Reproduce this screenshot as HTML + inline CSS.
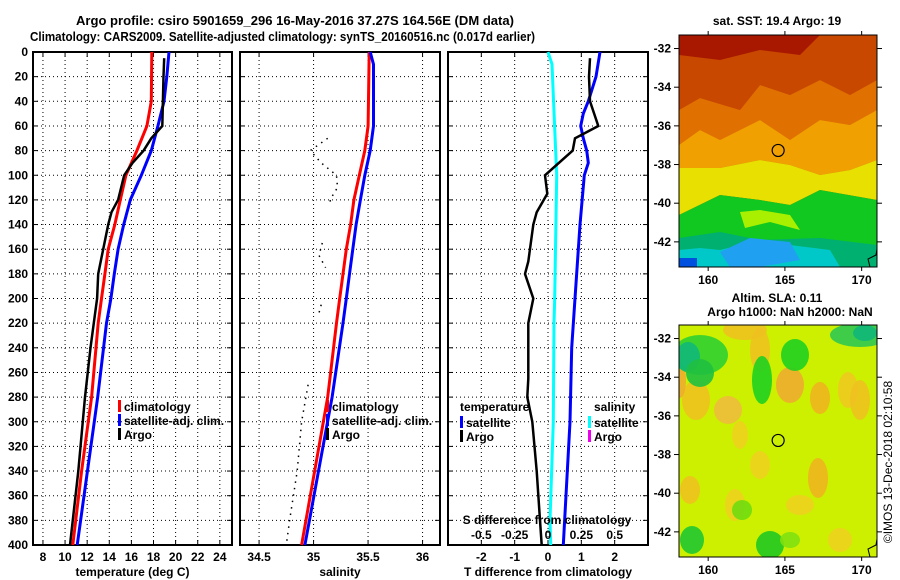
<!DOCTYPE html>
<html><head><meta charset="utf-8"><style>
body{margin:0;background:#fff;}
svg{display:block;font-family:"Liberation Sans",Arial,sans-serif;font-weight:bold;}
</style></head><body>
<svg id="c" width="900" height="580" xmlns="http://www.w3.org/2000/svg">
<text x="76" y="25" font-size="12.5" textLength="438" lengthAdjust="spacingAndGlyphs">Argo profile: csiro 5901659_296 16-May-2016 37.27S 164.56E (DM data)</text>
<text x="30" y="41" font-size="12.5" textLength="505" lengthAdjust="spacingAndGlyphs">Climatology: CARS2009. Satellite-adjusted climatology: synTS_20160516.nc (0.017d earlier)</text>
<g id="maps"></g>
<g id="panels"></g>
</svg>
<script>
// ---- data ----
const depthTicks=[0,20,40,60,80,100,120,140,160,180,200,220,240,260,280,300,320,340,360,380,400];
const tTicks=[8,10,12,14,16,18,20,22,24];
const sTicks=[34.5,35,35.5,36];
const dTicks=[-2,-1,0,1,2];
const sdTicks=[-0.5,-0.25,0,0.25,0.5];
const sdTickLabels=["-0.5","-0.25","0","0.25","0.5"];

const climTDepth=[0,40,60,80,100,120,140,160,180,200,220,280,340,400];
const climT=[17.85,17.8,17.4,16.5,15.5,15.0,14.5,13.9,13.6,13.3,13.0,12.4,11.5,10.7];
const satTDepth=[0,20,40,60,80,100,120,140,160,180,200,220,280,400];
const satT=[19.4,19.2,18.95,18.4,17.8,16.9,15.9,15.3,14.8,14.45,14.15,13.75,12.95,11.1];
const argoTDepth=[5,20,60,70,80,90,100,120,130,140,160,180,200,220,240,280,340,400];
const argoT=[18.97,18.9,18.8,17.8,17.1,16.1,15.35,14.8,14.2,13.9,13.45,13.0,12.9,12.6,12.3,11.8,11.2,10.45];

const climSDepth=[0,60,80,100,120,140,160,180,200,220,280,400];
const climS=[35.51,35.5,35.47,35.42,35.37,35.34,35.30,35.27,35.24,35.21,35.13,34.89];
const satSDepth=[0,10,60,80,100,120,140,160,180,200,220,280,400];
const satS=[35.52,35.55,35.55,35.52,35.47,35.43,35.39,35.36,35.33,35.30,35.27,35.17,34.92];
const argoSDepth=[70,80,90,100,110,120,125,null,155,165,175,null,205,215,null,270,300,340,380,400];
const argoS=[35.13,34.97,35.07,35.21,35.22,35.15,35.17,null,35.08,35.05,35.11,null,35.07,35.04,null,34.95,34.89,34.85,34.78,34.75];

const satDTDepth=[0,20,40,50,60,70,80,90,100,140,200,240,300,400];
const satDT=[1.56,1.44,1.21,1.06,0.98,1.06,1.16,1.21,1.09,0.96,0.81,0.71,0.66,0.46];
const argoDTDepth=[5,20,40,60,65,70,80,100,115,130,140,170,180,200,220,265,280,300,340,380,400];
const argoDT=[1.26,1.23,1.26,1.51,1.16,0.81,0.74,-0.09,-0.02,-0.34,-0.44,-0.59,-0.69,-0.44,-0.59,-0.59,-0.62,-0.47,-0.34,-0.24,-0.19];
const satDSDepth=[0,10,100,200,220,300,380,400];
const satDS=[0,0.03,0.065,0.05,0.045,0.04,0.015,0.02];

const NS="http://www.w3.org/2000/svg";
function mk(tag,attrs,parent,txt){const e=document.createElementNS(NS,tag);for(const k in attrs)e.setAttribute(k,attrs[k]);if(txt!==undefined)e.textContent=txt;parent.appendChild(e);return e;}
const P=document.getElementById('panels');
const Y0=52,Y1=545;
const yD=d=>Y0+d*(Y1-Y0)/400;
function panel(x0,x1,vmin,vmax,ticks,labels,name,title,showY){
  const g=mk('g',{},P);
  
  
  const sx=v=>x0+(v-vmin)/(vmax-vmin)*(x1-x0);
  ticks.forEach((t,i)=>{const x=sx(t);
    const l=mk('line',{x1:x,x2:x,y1:Y0,y2:Y1,stroke:'#000','stroke-width':1,'stroke-dasharray':'1 3'},g);
    
    mk('line',{x1:x,x2:x,y1:Y1,y2:Y1-5,stroke:'#000'},g);mk('line',{x1:x,x2:x,y1:Y0,y2:Y0+5,stroke:'#000'},g);
    const tl=mk('text',{x:x,y:561,'font-size':12,'text-anchor':'middle'},g,labels[i]);
    });
  depthTicks.forEach(d=>{const y=yD(d);
    if(d>0&&d<400){const l=mk('line',{x1:x0,x2:x1,y1:y,y2:y,stroke:'#000','stroke-dasharray':'1 3'},g);
      }
    mk('line',{x1:x0,x2:x0+5,y1:y,y2:y,stroke:'#000'},g);mk('line',{x1:x1,x2:x1-5,y1:y,y2:y,stroke:'#000'},g);
    if(showY){const tl=mk('text',{x:28,y:y+4,'font-size':12,'text-anchor':'end'},g,String(d));
      }});
  const fr=mk('rect',{x:x0,y:Y0,width:x1-x0,height:Y1-Y0,fill:'none',stroke:'#000','stroke-width':2},g);
  
  const at=mk('text',{x:(x0+x1)/2,y:576,'font-size':12,'text-anchor':'middle'},g,title);
  
  return {g,sx};
}
function line(g,sx,depths,vals,color,w,name,dash){
  let d='',pen=false;
  for(let i=0;i<vals.length;i++){
    if(vals[i]===null){pen=false;continue;}
    d+=(pen?'L':'M')+sx(vals[i]).toFixed(1)+' '+yD(depths[i]).toFixed(1);pen=true;}
  const a={d:d,fill:'none',stroke:color,'stroke-width':w};
  if(dash)a['stroke-dasharray']=dash;
  const p=mk('path',a,g);
  
  
}
function legend(g,x,y,color,label,name){
  mk('rect',{x:x,y:y-9,width:3,height:12,fill:color},g);
  const t=mk('text',{x:x+6,y:y+2,'font-size':12},g,label);
  
}
// temperature
const p1=panel(33,232,7.1,25.1,tTicks,tTicks.map(String),'temperature-panel','temperature (deg C)',true);
line(p1.g,p1.sx,climTDepth,climT,'#f00',3,'climatology-temperature-line');
line(p1.g,p1.sx,satTDepth,satT,'#00f',3,'satellite-adj-temperature-line');
line(p1.g,p1.sx,argoTDepth,argoT,'#000',2.5,'argo-temperature-line');
legend(p1.g,118,409,'#f00','climatology','legend-climatology');
legend(p1.g,118,423,'#00f','satellite-adj. clim.','legend-satellite-adj');
legend(p1.g,118,437,'#000','Argo','legend-argo');
// salinity
const p2=panel(240,440,34.325,36.16,sTicks,sTicks.map(String),'salinity-panel','salinity',false);
line(p2.g,p2.sx,climSDepth,climS,'#f00',3,'climatology-salinity-line');
line(p2.g,p2.sx,satSDepth,satS,'#00f',3,'satellite-adj-salinity-line');
line(p2.g,p2.sx,argoSDepth,argoS,'#000',1.5,'argo-salinity-line','1.5 5');
legend(p2.g,326,409,'#f00','climatology','legend-climatology');
legend(p2.g,326,423,'#00f','satellite-adj. clim.','legend-satellite-adj');
legend(p2.g,326,437,'#000','Argo','legend-argo');
// difference
const p3=panel(448,648,-3,3,dTicks,dTicks.map(String),'difference-panel','T difference from climatology',false);
const sxS=v=>448+(v+0.75)/1.5*200;
line(p3.g,sxS,satDSDepth,satDS,'#0ff',3,'satellite-salinity-diff-line');
line(p3.g,p3.sx,satDTDepth,satDT,'#00f',3,'satellite-temperature-diff-line');
line(p3.g,p3.sx,argoDTDepth,argoDT,'#000',2.5,'argo-temperature-diff-line');
let t=mk('text',{x:460,y:411,'font-size':12},p3.g,'temperature');
legend(p3.g,460,425,'#00f','satellite','legend-t-satellite');
legend(p3.g,460,439,'#000','Argo','legend-t-argo');
t=mk('text',{x:594,y:411,'font-size':12},p3.g,'salinity');
legend(p3.g,588,425,'#0ff','satellite','legend-s-satellite');
legend(p3.g,588,439,'#e0e','Argo','legend-s-argo');
t=mk('text',{x:547,y:524,'font-size':12,'text-anchor':'middle'},p3.g,'S difference from climatology');
sdTicks.forEach((v,i)=>{const tt=mk('text',{x:sxS(v),y:539,'font-size':12,'text-anchor':'middle'},p3.g,sdTickLabels[i]);
  });

// ---- maps ----
const M=document.getElementById('maps');
const latTicks=[-32,-34,-36,-38,-40,-42];
const lonTicks=[160,165,170];
function mapFrame(y0,y1,name,shapes,bg){
  const g=mk('g',{},M);
  
  
  const cp='clip'+y0;
  const cl=mk('clipPath',{id:cp},g);mk('rect',{x:679,y:y0,width:198,height:y1-y0},cl);
  const ig=mk('g',{'clip-path':'url(#'+cp+')'},g);
  mk('rect',{x:679,y:y0,width:198,height:y1-y0,fill:bg},ig);
  shapes(ig,y0);
  const lx=v=>679+(v-158.1)/(171-158.1)*198;
  const ly=v=>y0+(-31.3-v)/12*(y1-y0);
  mk('circle',{cx:lx(164.56),cy:ly(-37.27),r:6,fill:'none',stroke:'#000','stroke-width':1.2},ig);
  mk('path',{d:`M870 ${y1} L868 ${y1-8} L876 ${y1-12} L877 ${y1-18}`,fill:'none',stroke:'#000'},ig);
  mk('rect',{x:679,y:y0,width:198,height:y1-y0,fill:'none',stroke:'#000'},g);
  latTicks.forEach(v=>{const y=ly(v);mk('line',{x1:674,x2:679,y1:y,y2:y,stroke:'#000'},g);mk('line',{x1:877,x2:882,y1:y,y2:y,stroke:'#000'},g);
    const tl=mk('text',{x:671,y:y+4,'font-size':12,'text-anchor':'end'},g,String(v));});
  lonTicks.forEach(v=>{const x=lx(v);mk('line',{x1:x,x2:x,y1:y0-4,y2:y0,stroke:'#000'},g);mk('line',{x1:x,x2:x,y1:y1,y2:y1+4,stroke:'#000'},g);
    const tl=mk('text',{x:x,y:y1+17,'font-size':12,'text-anchor':'middle'},g,String(v));});
}
mapFrame(35,267,'sst-map',(g,y0)=>{
  mk('rect',{x:679,y:35,width:198,height:20,fill:'#a01000'},g);
  mk('path',{d:'M679 35 H820 V60 L780 70 L720 78 L679 110 Z',fill:'#a81800'},g);
  mk('path',{d:'M679 110 L700 98 L740 110 L760 85 L790 95 L820 80 L850 95 L877 80 V110 L850 125 L820 120 L790 140 L760 120 L720 140 L700 130 L679 145 Z',fill:'#e07000'},g);
  mk('path',{d:'M679 55 L720 60 L760 50 L800 55 L820 35 H877 V80 L850 95 L820 80 L790 95 L760 85 L740 110 L700 98 L679 110 Z',fill:'#c84800'},g);
  mk('path',{d:'M679 145 L700 130 L720 140 L760 120 L790 140 L820 120 L850 125 L877 110 V160 L850 170 L820 175 L790 165 L760 160 L720 168 L679 168 Z',fill:'#f0a000'},g);
  mk('path',{d:'M679 168 L720 168 L760 160 L790 165 L820 175 L850 170 L877 160 V200 L820 190 L790 205 L760 200 L720 195 L679 215 Z',fill:'#e8e000'},g);
  mk('path',{d:'M679 215 L720 195 L760 200 L790 205 L820 190 L877 200 V267 H679 Z',fill:'#10c820'},g);
  mk('path',{d:'M740 212 L760 210 L790 215 L800 230 L770 222 L745 228 Z',fill:'#a8f000'},g);
  mk('path',{d:'M679 238 L720 232 L760 240 L820 238 L877 245 V267 H679 Z',fill:'#00b070'},g);
  mk('path',{d:'M679 250 L700 248 L720 250 L760 240 L790 245 L830 250 L840 267 H679 Z',fill:'#00c8c8'},g);
  mk('path',{d:'M720 252 L750 238 L790 242 L800 260 L760 267 L730 267 Z',fill:'#20a0f0'},g);
  mk('rect',{x:679,y:258,width:18,height:9,fill:'#0050e0'},g);
},'#c84800');
mapFrame(325,557,'sla-map',(g)=>{
  const bl=[[745,330,22,10,'#f0c020'],[760,350,10,22,'#f0c020'],[790,385,14,18,'#f0a830'],[696,400,14,20,'#f0c020'],[728,410,14,14,'#f0b840'],[740,435,8,14,'#f0d020'],[820,398,10,16,'#f0b020'],[848,390,10,18,'#f0c820'],[860,400,10,20,'#f0c020'],[818,478,10,20,'#f0b020'],[690,490,10,14,'#f0c020'],[735,505,10,16,'#f0d020'],[800,505,14,10,'#f0d020'],[840,540,12,12,'#f0d020'],[760,465,10,14,'#f0d020'],[680,380,6,18,'#f0a830']];
  bl.forEach(b=>mk('ellipse',{cx:b[0],cy:b[1],rx:b[2],ry:b[3],fill:b[4],opacity:0.85},g));
  const gr=[[700,355,28,20,'#30d030'],[688,357,12,15,'#10b878'],[700,373,14,14,'#20c040'],[762,380,10,24,'#20d020'],[795,355,14,16,'#20d020'],[860,335,30,12,'#30c850'],[865,333,12,8,'#10b878'],[692,540,12,14,'#20c830'],[770,545,14,14,'#20c820'],[742,510,10,10,'#70dc10'],[790,540,10,8,'#80e010']];
  gr.forEach(b=>mk('ellipse',{cx:b[0],cy:b[1],rx:b[2],ry:b[3],fill:b[4],opacity:0.9},g));
},'#ccf000');
let tx=mk('text',{x:777,y:25,'font-size':12,'text-anchor':'middle'},M,'sat. SST: 19.4 Argo: 19');
tx=mk('text',{x:777,y:302,'font-size':12,'text-anchor':'middle'},M,'Altim. SLA: 0.11');
tx=mk('text',{x:790,y:316,'font-size':12,'text-anchor':'middle'},M,'Argo h1000: NaN h2000: NaN');
tx=mk('text',{x:0,y:0,'font-size':12,'font-weight':'normal','text-anchor':'middle',transform:'translate(892,462) rotate(-90)'},M,'©IMOS 13-Dec-2018 02:10:58');
</script>
</body></html>
